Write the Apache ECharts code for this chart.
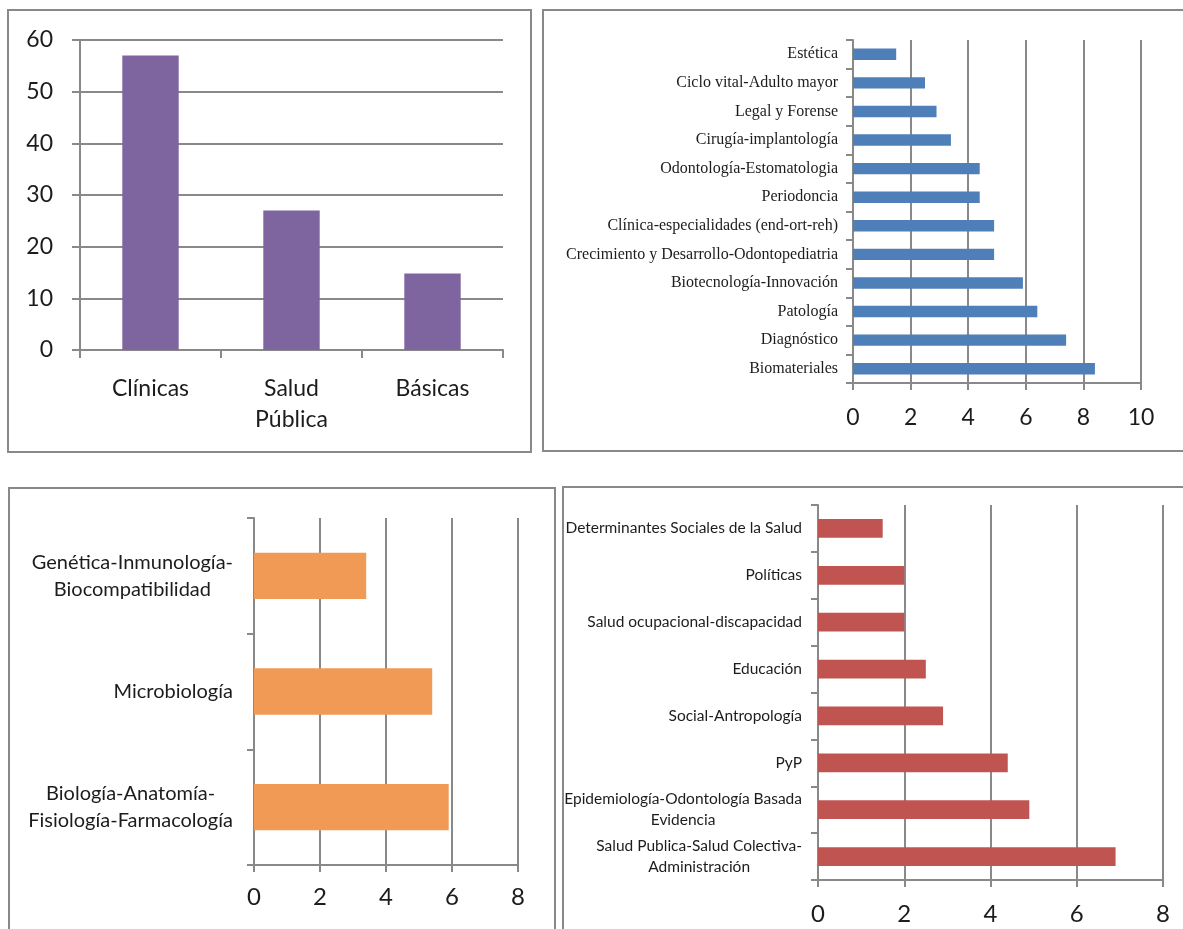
<!DOCTYPE html>
<html>
<head>
<meta charset="utf-8">
<script src="https://cdn.jsdelivr.net/npm/echarts@6/dist/echarts.min.js"></script>
<style>
  html, body { margin: 0; padding: 0; background: #fff; }
  #chart { width: 1183px; height: 929px; }
</style>
</head>
<body>
<div id="chart"></div>
<script>
// panel 1: áreas
const areaNames = ['Clínicas', 'Salud\nPública', 'Básicas'];
const areaValues = [57, 27, 14.8];

// panel 2: clínicas (top to bottom)
const clinNames = ['Estética', 'Ciclo vital-Adulto mayor', 'Legal y Forense', 'Cirugía-implantología',
  'Odontología-Estomatologia', 'Periodoncia', 'Clínica-especialidades (end-ort-reh)',
  'Crecimiento y Desarrollo-Odontopediatria', 'Biotecnología-Innovación', 'Patología',
  'Diagnóstico', 'Biomateriales'];
const clinValues = [1.5, 2.5, 2.9, 3.4, 4.4, 4.4, 4.9, 4.9, 5.9, 6.4, 7.4, 8.4];

// panel 3: básicas
const basNames = ['Genética-Inmunología-\nBiocompatibilidad', 'Microbiología', 'Biología-Anatomía-\nFisiología-Farmacología'];
const basValues = [3.4, 5.4, 5.9];

// panel 4: salud pública
const spNames = ['Determinantes Sociales de la Salud', 'Políticas', 'Salud ocupacional-discapacidad',
  'Educación', 'Social-Antropología', 'PyP', 'Epidemiología-Odontología Basada\nEvidencia',
  'Salud Publica-Salud Colectiva-\nAdministración'];
const spValues = [1.5, 2, 2, 2.5, 2.9, 4.4, 4.9, 6.9];

const gray = '#898989';
const ink = '#1c1c1c';
const sans = 'Lato';
const lineSt = { lineStyle: { color: gray, width: 2 } };

function centered(v) {
  return v.split('\n').map(s => '{c|' + s + '}').join('\n');
}

function valueX(idx, max, size, margin) {
  return {
    type: 'value', gridIndex: idx, min: 0, max: max, interval: 2,
    axisLine: { show: true, ...lineSt },
    axisTick: { show: true, length: 7, ...lineSt },
    splitLine: { show: true, ...lineSt },
    axisLabel: { fontFamily: sans, fontSize: size, color: ink, margin: margin }
  };
}

function catY(idx, names, label) {
  return {
    type: 'category', gridIndex: idx, data: names, inverse: true,
    axisLine: { show: true, ...lineSt },
    axisTick: { show: true, length: 7, interval: 0, ...lineSt },
    axisLabel: Object.assign({ interval: 0, color: ink }, label)
  };
}

const chart = echarts.init(document.getElementById('chart'));
chart.setOption({
  animation: false,
  backgroundColor: '#fff',
  grid: [
    { left: 80, top: 40, width: 423, height: 310 },
    { left: 853, top: 40, width: 288, height: 343 },
    { left: 254, top: 518, width: 264, height: 347 },
    { left: 818, top: 505, width: 345, height: 375 }
  ],
  xAxis: [
    {
      type: 'category', gridIndex: 0, data: areaNames,
      axisLine: { show: true, ...lineSt },
      axisTick: { show: true, length: 8, ...lineSt },
      axisLabel: { fontFamily: sans, fontSize: 23, color: ink, margin: 23, lineHeight: 31 }
    },
    valueX(1, 10, 23, 23),
    valueX(2, 8, 24, 20),
    valueX(3, 8, 24, 22)
  ],
  yAxis: [
    {
      type: 'value', gridIndex: 0, min: 0, max: 60, interval: 10,
      axisLine: { show: true, ...lineSt },
      axisTick: { show: true, length: 8, ...lineSt },
      splitLine: { show: true, ...lineSt },
      axisLabel: { fontFamily: sans, fontSize: 23, color: ink, margin: 27 }
    },
    catY(1, clinNames, { fontFamily: 'Liberation Serif', fontSize: 16, margin: 15 }),
    catY(2, basNames, {
      margin: 21, formatter: centered,
      rich: { c: { fontFamily: sans, fontSize: 20, color: ink, align: 'center', lineHeight: 27 } }
    }),
    catY(3, spNames, {
      margin: 16, formatter: centered,
      rich: { c: { fontFamily: sans, fontSize: 15.5, color: ink, align: 'center', lineHeight: 21 } }
    })
  ],
  series: [
    { type: 'bar', xAxisIndex: 0, yAxisIndex: 0, data: areaValues, barWidth: '40%', itemStyle: { color: '#7f65a0' } },
    { type: 'bar', xAxisIndex: 1, yAxisIndex: 1, data: clinValues, barWidth: '40%', itemStyle: { color: '#4f7fb9' } },
    { type: 'bar', xAxisIndex: 2, yAxisIndex: 2, data: basValues, barWidth: '40%', itemStyle: { color: '#f09a55' } },
    { type: 'bar', xAxisIndex: 3, yAxisIndex: 3, data: spValues, barWidth: '40%', itemStyle: { color: '#bf5451' } }
  ],
  graphic: [
    { type: 'rect', shape: { x: 8, y: 10, width: 523, height: 442 }, style: { fill: 'none', stroke: gray, lineWidth: 2 } },
    { type: 'rect', shape: { x: 543, y: 10, width: 660, height: 441 }, style: { fill: 'none', stroke: gray, lineWidth: 2 } },
    { type: 'rect', shape: { x: 9, y: 488, width: 546, height: 500 }, style: { fill: 'none', stroke: gray, lineWidth: 2 } },
    { type: 'rect', shape: { x: 563, y: 487, width: 660, height: 500 }, style: { fill: 'none', stroke: gray, lineWidth: 2 } }
  ]
});
</script>
</body>
</html>
